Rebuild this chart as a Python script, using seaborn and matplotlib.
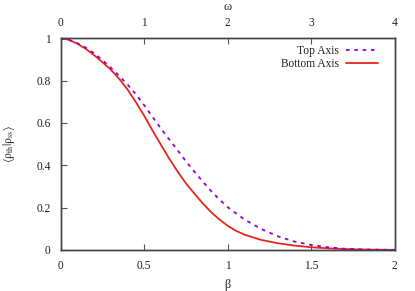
import numpy as np
import pandas as pd
import seaborn as sns
import matplotlib
matplotlib.use("Agg")
import matplotlib.pyplot as plt

# Bottom axis series (beta)
beta = [0.0, 0.05, 0.1, 0.15, 0.2, 0.25, 0.3, 0.35, 0.4, 0.45, 0.5, 0.55, 0.6, 0.65, 0.7, 0.75,
        0.8, 0.85, 0.9, 0.95, 1.0, 1.05, 1.1, 1.2, 1.3, 1.4, 1.5, 1.6, 1.7, 1.8, 1.9, 2.0]
overlap_beta = [1.0, 0.993, 0.975, 0.951, 0.921, 0.888, 0.853, 0.810, 0.760, 0.700, 0.636, 0.566,
                0.499, 0.433, 0.372, 0.316, 0.268, 0.222, 0.180, 0.145, 0.115, 0.091, 0.073,
                0.048, 0.032, 0.021, 0.013, 0.008, 0.0045, 0.0025, 0.0012, 0.0006]

# Top axis series (omega)
omega = [0.0, 0.1, 0.2, 0.3, 0.4, 0.5, 0.6, 0.7, 0.8, 0.9, 1.0, 1.1, 1.2, 1.3, 1.4, 1.5, 1.6, 1.7,
         1.8, 1.9, 2.0, 2.2, 2.4, 2.6, 2.8, 3.0, 3.2, 3.4, 3.6, 3.8, 4.0]
overlap_omega = [1.0, 0.993, 0.977, 0.956, 0.930, 0.898, 0.862, 0.823, 0.783, 0.737, 0.685, 0.630,
                 0.575, 0.523, 0.473, 0.420, 0.372, 0.325, 0.280, 0.240, 0.203, 0.145, 0.100,
                 0.065, 0.040, 0.024, 0.013, 0.006, 0.003, 0.0015, 0.0007]

xticks_bottom = [0, 0.5, 1, 1.5, 2]
xticklabels_bottom = ["0", "0.5", "1", "1.5", "2"]
xticks_top = [0, 1, 2, 3, 4]
yticks = [0, 0.2, 0.4, 0.6, 0.8, 1]
yticklabels = ["0", "0.2", "0.4", "0.6", "0.8", "1"]

sns.set_theme(style="white")
plt.rcParams['font.family'] = ['Liberation Serif', 'STIXGeneral', 'DejaVu Serif']
plt.rcParams['mathtext.fontset'] = 'stix'

fig = plt.figure(figsize=(4.15, 2.91), dpi=100)
ax = fig.add_axes([60.5 / 415, 41 / 291, 334 / 415, 211.7 / 291])
ax2 = ax.twiny()

df_b = pd.DataFrame({"x": beta, "y": overlap_beta})
df_o = pd.DataFrame({"x": omega, "y": overlap_omega})

sns.lineplot(data=df_b, x="x", y="y", ax=ax, color="#e8261c", lw=1.3, label="Bottom Axis", legend=False)
sns.lineplot(data=df_o, x="x", y="y", ax=ax2, color="#9400d3", lw=1.3, label="Top Axis",
             legend=False, dashes=False)
ax2.lines[0].set_linestyle((0, (2.0, 2.6)))

ax.set_xlim(0, 2)
ax.set_ylim(0, 1)
ax2.set_xlim(0, 4)
ax2.set_ylim(0, 1)

fs = 8.3
txtcol = "#222222"
ax.set_xticks(xticks_bottom)
ax.set_xticklabels(xticklabels_bottom, fontsize=fs, color=txtcol)
ax.set_yticks(yticks)
ax.set_yticklabels(yticklabels, fontsize=fs, color=txtcol)
ax2.set_xticks(xticks_top)
ax2.set_xticklabels([str(t) for t in xticks_top], fontsize=fs, color=txtcol)

ax.tick_params(axis="x", direction="in", length=4, width=0.8, color="#555555", pad=7.5,
               bottom=True, top=False)
ax.tick_params(axis="y", direction="in", length=4, width=0.8, color="#555555", pad=7,
               left=True, right=False)
ax2.tick_params(axis="x", direction="in", length=4, width=0.8, color="#555555", pad=6.5,
                top=True, bottom=False)
ax2.tick_params(axis="y", left=False, right=False, labelleft=False, labelright=False)

for a in (ax, ax2):
    for s in a.spines.values():
        s.set_visible(True)
        s.set_color("#444444")
        s.set_linewidth(1.0)

ax.set_xlabel("β", fontsize=fs + 0.5, color=txtcol, labelpad=5)
ax2.set_xlabel("ω", fontsize=fs + 0.5, color=txtcol, labelpad=5.5)
ax.set_ylabel(r"$\langle\mathrm{\rho_{th}}|\mathrm{\rho_{ss}}\rangle$", fontsize=fs, color=txtcol,
              labelpad=14)

handles = [ax2.lines[0], ax.lines[0]]
labels = ["Top Axis", "Bottom Axis"]
leg = ax.legend(handles, labels, loc="upper right", markerfirst=False, frameon=False,
                fontsize=fs, handlelength=2.8, handletextpad=0.6, labelspacing=0.1,
                borderaxespad=0.2, bbox_to_anchor=(0.972, 1.0))
for t in leg.get_texts():
    t.set_color(txtcol)

fig.savefig("out.png", dpi=100)
